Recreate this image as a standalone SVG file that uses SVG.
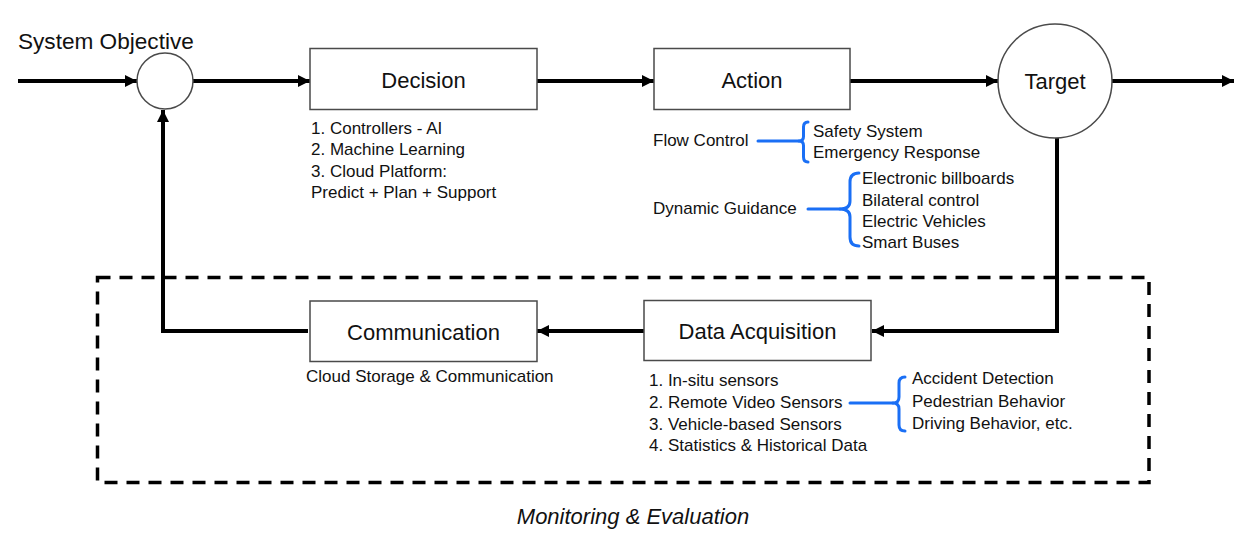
<svg xmlns="http://www.w3.org/2000/svg" width="1241" height="554" viewBox="0 0 1241 554">
<defs>
<style>
text{font-family:"Liberation Sans",Arial,sans-serif;fill:#111}
.t{font-size:22px}
.s{font-size:17px}
.box{fill:#fff;stroke:#4a4a4a;stroke-width:1.5}
.circ{fill:#fff;stroke:#4a4a4a;stroke-width:1.5}
.ln{fill:none;stroke:#000;stroke-width:4}
.br{fill:none;stroke:#1a6ff5;stroke-width:3;stroke-linecap:round;stroke-linejoin:round}
</style>
<marker id="ah" markerUnits="userSpaceOnUse" markerWidth="13" markerHeight="12" refX="12" refY="6" orient="auto">
<path d="M0,0 L12,6 L0,12 z" fill="#000"/>
</marker>
</defs>
<rect width="1241" height="554" fill="#fff"/>

<g id="monitoring">
<rect x="97.5" y="277.5" width="1051.5" height="205" fill="none" stroke="#000" stroke-width="3.5" stroke-dasharray="13,9"/>
<text class="t" x="633" y="524" text-anchor="middle" font-style="italic">Monitoring &amp; Evaluation</text>
</g>

<g id="connectors">
<line class="ln" x1="18" y1="81" x2="137" y2="81" marker-end="url(#ah)"/>
<line class="ln" x1="193" y1="81" x2="310" y2="81" marker-end="url(#ah)"/>
<line class="ln" x1="537" y1="81" x2="654" y2="81" marker-end="url(#ah)"/>
<line class="ln" x1="850" y1="81" x2="998" y2="81" marker-end="url(#ah)"/>
<line class="ln" x1="1112" y1="81" x2="1234" y2="81" marker-end="url(#ah)"/>
<polyline class="ln" points="1057,138 1057,331 872,331" marker-end="url(#ah)"/>
<line class="ln" x1="644" y1="331" x2="537" y2="331" marker-end="url(#ah)"/>
<polyline class="ln" points="308,331 163,331 163,110" marker-end="url(#ah)"/>
</g>

<g id="objective">
<text x="18" y="49" style="font-size:22.6px">System Objective</text>
<circle class="circ" cx="165" cy="81" r="28"/>
</g>

<g id="decision">
<rect class="box" x="310" y="48.5" width="227" height="61"/>
<text class="t" x="423.5" y="88" text-anchor="middle">Decision</text>
<text class="s" x="311" y="133.5">1. Controllers - AI</text>
<text class="s" x="311" y="155">2. Machine Learning</text>
<text class="s" x="311" y="176.5">3. Cloud Platform:</text>
<text class="s" x="311" y="198">Predict + Plan + Support</text>
</g>

<g id="action">
<rect class="box" x="654" y="48.5" width="196" height="61"/>
<text class="t" x="752" y="88" text-anchor="middle">Action</text>
<text class="s" x="653" y="145.5">Flow Control</text>
<path class="br" d="M758,141 L799,141"/>
<path class="br" d="M808,122 Q803.5,122 803.5,127 L803.5,136.5 Q803.5,141 799,141 Q803.5,141 803.5,145.5 L803.5,157 Q803.5,162 808,162"/>
<text class="s" x="813" y="137">Safety System</text>
<text class="s" x="813" y="158">Emergency Response</text>
<text class="s" x="653" y="213.5">Dynamic Guidance</text>
<path class="br" d="M808,209 L840,209"/>
<path class="br" d="M859,173 Q850,173 850,182 L850,201 Q850,209 840,209 Q850,209 850,217 L850,237 Q850,246 859,246"/>
<text class="s" x="862" y="184">Electronic billboards</text>
<text class="s" x="862" y="205.5">Bilateral control</text>
<text class="s" x="862" y="226.5">Electric Vehicles</text>
<text class="s" x="862" y="247.5">Smart Buses</text>
</g>

<g id="target">
<circle class="circ" cx="1055" cy="81" r="57"/>
<text class="t" x="1055" y="89" text-anchor="middle">Target</text>
</g>

<g id="data-acquisition">
<rect class="box" x="644" y="300.5" width="227" height="60"/>
<text class="t" x="757.5" y="339" text-anchor="middle">Data Acquisition</text>
<text class="s" x="649" y="385.5">1. In-situ sensors</text>
<text class="s" x="649" y="407.5">2. Remote Video Sensors</text>
<text class="s" x="649" y="429.5">3. Vehicle-based Sensors</text>
<text class="s" x="649" y="451">4. Statistics &amp; Historical Data</text>
<path class="br" d="M850,403 L893,403"/>
<path class="br" d="M905,377 Q899,377 899,383 L899,397 Q899,403 893,403 Q899,403 899,409 L899,425 Q899,431 905,431"/>
<text class="s" x="912" y="384">Accident Detection</text>
<text class="s" x="912" y="406.5">Pedestrian Behavior</text>
<text class="s" x="912" y="428.5">Driving Behavior, etc.</text>
</g>

<g id="communication">
<rect class="box" x="310" y="301" width="227" height="60.5"/>
<text class="t" x="423.5" y="339.5" text-anchor="middle">Communication</text>
<text class="s" x="306" y="382">Cloud Storage &amp; Communication</text>
</g>
</svg>
